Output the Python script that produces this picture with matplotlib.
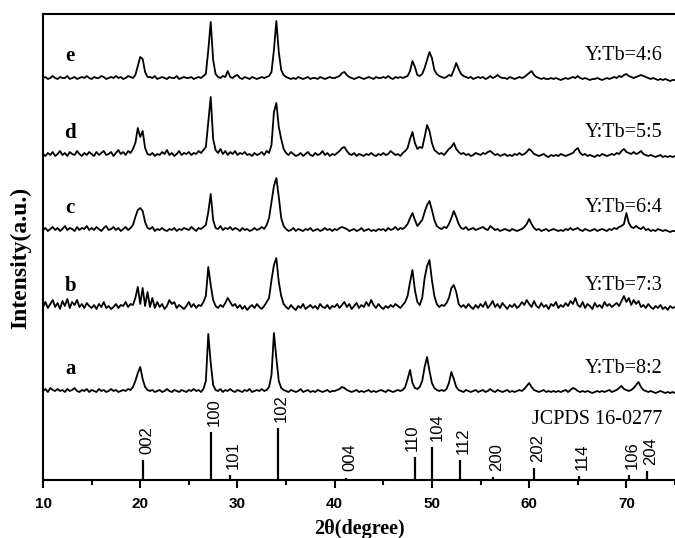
""" XRD patterns of Y:Tb samples with the JCPDS 16-0277 reference sticks.
"""


""" IMPORTS """
import numpy as np
import matplotlib
matplotlib.use("Agg")
import matplotlib.pyplot as plt
from matplotlib.ticker import MultipleLocator


""" DATA """
# intensities, one value every 0.25 deg from 10 to 75 deg
two_theta_start = 10.0
two_theta_step = 0.25

trace_a = [
    2, 4, 1, 5, 3, 2, 4, 2, 3, 1, 4, 2, 3, 5, 2, 1, 3, 2, 4, 1,
    3, 2, 1, 4, 2, 3, 1, 2, 4, 2, 3, 1, 2, 3, 2, 4, 3, 6, 12, 20,
    26, 14, 6, 3, 2, 3, 1, 2, 3, 1, 2, 4, 2, 1, 3, 2, 1, 3, 2, 1,
    3, 2, 4, 2, 3, 1, 4, 12, 59, 30, 8, 3, 2, 4, 1, 3, 2, 4, 2, 1,
    3, 2, 1, 3, 2, 4, 1, 2, 3, 2, 4, 2, 3, 6, 18, 60, 35, 12, 5, 3,
    2, 1, 3, 2, 1, 2, 4, 1, 2, 3, 1, 2, 1, 3, 2, 1, 2, 3, 1, 2,
    2, 3, 4, 6, 5, 3, 2, 1, 2, 3, 1, 2, 1, 2, 3, 1, 2, 1, 2, 3,
    2, 1, 3, 2, 1, 2, 3, 2, 3, 6, 14, 23, 10, 5, 4, 6, 12, 26, 36, 22,
    10, 5, 3, 2, 3, 2, 4, 10, 21, 14, 6, 3, 2, 1, 3, 2, 1, 2, 3, 1,
    2, 3, 1, 2, 4, 2, 1, 3, 2, 1, 2, 3, 1, 2, 1, 2, 3, 2, 4, 7,
    10, 6, 3, 2, 1, 2, 3, 1, 2, 1, 2, 1, 2, 1, 2, 3, 1, 3, 5, 4,
    2, 1, 2, 1, 2, 1, 0, 1, 2, 1, 2, 1, 2, 3, 1, 2, 3, 5, 7, 4,
    3, 2, 3, 5, 8, 11, 6, 3, 2, 1, 2, 1, 0, 1, 2, 1, 0, 1, 0, 1,
    0]

trace_b = [
    3, 8, 2, 6, 10, 3, 7, 1, 9, 4, 11, 2, 8, 5, 10, 3, 6, 2, 7, 4,
    2, 5, 1, 6, 3, 8, 2, 4, 1, 3, 6, 2, 5, 4, 8, 3, 6, 5, 12, 23,
    6, 22, 4, 18, 3, 12, 2, 8, 3, 6, 1, 4, 10, 6, 8, 2, 5, 3, 1, 4,
    8, 3, 6, 2, 5, 4, 8, 14, 43, 25, 10, 4, 2, 5, 3, 7, 12, 8, 4, 6,
    2, 5, 1, 4, 0, 3, 5, 2, 6, 3, 1, 4, 8, 12, 30, 45, 52, 28, 14, 6,
    3, 1, 5, 2, 0, 4, 2, 6, 1, 3, 5, 2, 4, 1, 6, 3, 2, 5, 1, 4,
    3, 6, 2, 5, 8, 3, 6, 1, 4, 7, 2, 5, 3, 8, 4, 10, 5, 2, 6, 3,
    1, 4, 2, 5, 3, 6, 4, 2, 5, 8, 14, 28, 40, 20, 8, 5, 12, 32, 44, 50,
    30, 14, 6, 3, 5, 4, 7, 12, 22, 25, 18, 6, 3, 5, 2, 6, 3, 1, 5, 2,
    6, 3, 8, 2, 5, 9, 3, 6, 2, 7, 4, 1, 5, 3, 6, 2, 4, 8, 5, 10,
    6, 3, 9, 4, 2, 7, 3, 5, 1, 6, 4, 8, 2, 5, 3, 7, 4, 9, 6, 12,
    5, 3, 8, 2, 6, 4, 1, 7, 3, 5, 2, 8, 4, 6, 3, 5, 7, 4, 9, 14,
    8, 12, 5, 10, 6, 9, 3, 5, 2, 6, 3, 1, 4, 2, 5, 1, 3, 0, 4, 2,
    3]

trace_c = [
    2, 4, 1, 3, 5, 2, 4, 1, 3, 6, 2, 4, 3, 1, 5, 2, 4, 3, 6, 2,
    4, 2, 5, 3, 1, 4, 6, 2, 3, 5, 2, 4, 1, 3, 5, 2, 4, 7, 15, 22,
    24, 21, 10, 4, 3, 5, 1, 3, 2, 4, 2, 1, 3, 2, 4, 1, 3, 2, 4, 3,
    2, 5, 3, 1, 4, 3, 5, 7, 20, 38, 12, 4, 3, 6, 2, 4, 3, 5, 2, 4,
    3, 1, 4, 2, 3, 1, 2, 4, 2, 3, 5, 3, 7, 14, 30, 46, 54, 35, 14, 6,
    3, 1, 2, 4, 1, 3, 2, 1, 3, 2, 4, 1, 2, 3, 1, 2, 4, 2, 3, 1,
    3, 2, 4, 5, 4, 3, 1, 2, 3, 1, 2, 4, 1, 2, 3, 1, 2, 1, 3, 2,
    3, 1, 4, 2, 3, 5, 2, 4, 3, 5, 8, 14, 19, 12, 6, 9, 12, 20, 27, 31,
    22, 12, 6, 4, 3, 5, 4, 8, 14, 21, 15, 8, 4, 3, 5, 2, 3, 4, 2, 3,
    4, 5, 3, 2, 6, 4, 2, 3, 1, 2, 3, 2, 1, 3, 2, 1, 2, 3, 5, 8,
    13, 8, 4, 2, 3, 1, 2, 3, 1, 2, 3, 2, 1, 2, 1, 3, 2, 4, 2, 3,
    4, 2, 1, 3, 2, 1, 2, 3, 1, 2, 3, 2, 1, 3, 2, 4, 3, 5, 6, 8,
    19, 9, 5, 4, 6, 4, 3, 5, 2, 3, 1, 2, 1, 3, 2, 1, 2, 1, 0, 1,
    1]

trace_d = [
    3, 1, 4, 2, 5, 1, 3, 6, 2, 4, 1, 5, 3, 2, 6, 3, 1, 4, 2, 5,
    3, 1, 5, 2, 4, 6, 2, 3, 5, 1, 4, 7, 3, 5, 2, 6, 4, 8, 14, 29,
    20, 26, 9, 3, 2, 4, 1, 3, 2, 5, 3, 7, 2, 4, 1, 3, 6, 2, 4, 3,
    5, 2, 4, 3, 6, 4, 7, 10, 35, 60, 18, 7, 4, 8, 3, 6, 2, 5, 3, 6,
    2, 4, 3, 5, 2, 3, 1, 4, 2, 3, 5, 2, 6, 4, 12, 45, 54, 30, 18, 8,
    4, 2, 5, 3, 1, 2, 4, 1, 3, 5, 2, 1, 4, 2, 3, 6, 2, 4, 1, 3,
    2, 4, 6, 9, 10, 6, 3, 2, 4, 1, 3, 2, 1, 3, 2, 4, 2, 1, 3, 2,
    4, 2, 3, 6, 4, 2, 3, 1, 4, 6, 9, 18, 25, 14, 8, 10, 9, 20, 32, 26,
    14, 7, 5, 3, 4, 2, 5, 8, 10, 14, 8, 5, 3, 4, 2, 3, 1, 2, 4, 3,
    2, 4, 3, 5, 6, 4, 2, 3, 1, 2, 3, 1, 2, 1, 3, 2, 4, 2, 3, 5,
    8, 6, 3, 2, 1, 2, 3, 1, 0, 2, 1, 2, 1, 3, 2, 1, 2, 3, 4, 7,
    9, 4, 2, 3, 1, 2, 1, 0, 2, 1, 3, 2, 1, 2, 3, 2, 4, 3, 6, 8,
    5, 4, 3, 5, 3, 4, 6, 3, 2, 1, 2, 1, 0, 1, 2, 0, 1, 0, 1, 0,
    1]

trace_e = [
    2, 3, 1, 2, 4, 2, 1, 3, 2, 2, 4, 1, 2, 3, 1, 2, 3, 2, 4, 2,
    1, 3, 2, 2, 4, 3, 1, 2, 3, 2, 4, 2, 3, 1, 2, 4, 3, 2, 5, 14,
    23, 21, 8, 3, 3, 2, 4, 1, 2, 3, 2, 1, 3, 2, 2, 4, 1, 2, 3, 2,
    2, 3, 1, 2, 3, 2, 4, 6, 30, 58, 20, 6, 3, 2, 4, 3, 9, 3, 2, 4,
    5, 2, 1, 3, 2, 1, 3, 2, 1, 2, 3, 2, 3, 4, 8, 30, 59, 28, 10, 5,
    3, 2, 1, 2, 1, 3, 2, 1, 2, 3, 1, 2, 2, 1, 3, 2, 1, 2, 3, 2,
    2, 3, 4, 7, 8, 5, 3, 2, 1, 2, 3, 2, 1, 2, 3, 2, 1, 3, 2, 2,
    3, 2, 4, 2, 1, 3, 2, 3, 2, 3, 4, 9, 19, 13, 5, 4, 6, 12, 20, 28,
    22, 10, 6, 4, 3, 2, 3, 5, 4, 10, 17, 11, 6, 4, 3, 2, 3, 1, 2, 3,
    2, 3, 1, 2, 4, 2, 3, 5, 3, 2, 2, 1, 3, 2, 1, 2, 3, 2, 3, 5,
    7, 9, 5, 3, 2, 1, 2, 1, 1, 2, 1, 2, 1, 0, 1, 2, 1, 2, 3, 2,
    4, 2, 1, 2, 1, 0, 1, 1, 2, 1, 0, 1, 2, 1, 2, 3, 2, 4, 3, 5,
    6, 4, 3, 2, 3, 4, 5, 4, 3, 2, 1, 2, 1, 0, 1, 0, 1, 0, -1, 0,
    0]

traces = [trace_a, trace_b, trace_c, trace_d, trace_e]
trace_offsets = [87, 170, 248, 323, 400]
sample_letters = ["a", "b", "c", "d", "e"]
ratio_labels = ["Y:Tb=8:2", "Y:Tb=7:3", "Y:Tb=6:4", "Y:Tb=5:5", "Y:Tb=4:6"]

# JCPDS 16-0277 reference lines
ref_pos = [20.3, 27.3, 29.2, 34.2, 41.2, 48.3, 50.05, 52.9, 56.3, 60.5, 65.1, 70.3, 72.1]
ref_int = [20, 48, 5, 52, 2, 23, 33, 20, 3, 12, 4, 5, 9]
ref_hkl = ["002", "100", "101", "102", "004", "110", "104", "112",
           "200", "202", "114", "106", "204"]
ref_name = "JCPDS 16-0277"


""" PLOT """
def main():
    serif = "Liberation Serif"
    sans = "Liberation Sans"

    fig = plt.figure(figsize=(6.75, 5.38), dpi=100)
    ax = fig.add_axes([43 / 675, 58 / 538, 632 / 675, 466 / 538])

    for vals, off, letter, ratio in zip(traces, trace_offsets, sample_letters, ratio_labels):
        y = np.array(vals, dtype=float) + off
        x = two_theta_start + two_theta_step * np.arange(len(y))
        ax.plot(x, y, color="black", lw=1.3)
        ax.text(12.8, off + 19, letter, family=serif, fontweight="bold",
                fontsize=15, ha="center", va="baseline")
        ax.text(73.7, off + 20, ratio, family=serif, fontsize=14.5,
                ha="right", va="baseline")

    # reference sticks
    ax.vlines(ref_pos, 0, ref_int, colors="black", lw=1.6)
    shift = {"110": -0.35, "104": 0.5}
    for pos, h, hkl in zip(ref_pos, ref_int, ref_hkl):
        ax.text(pos + shift.get(hkl, 0.35), max(h + 6, 9), hkl, rotation=90,
                family=sans, fontsize=12, ha="center", va="bottom")
    ax.text(73.7, 56, ref_name, family=serif, fontsize=14.5,
            ha="right", va="baseline")

    ax.set_xlim(10, 75)
    ax.set_ylim(0, 466)
    ax.set_yticks([])
    ax.xaxis.set_major_locator(MultipleLocator(10))
    ax.xaxis.set_minor_locator(MultipleLocator(5))
    ax.tick_params(axis="x", which="major", direction="out", length=6, width=1.5,
                   labelsize=11, pad=6)
    ax.tick_params(axis="x", which="minor", direction="out", length=3.5, width=1.5)
    for lab in ax.get_xticklabels():
        lab.set_family(sans)
        lab.set_fontweight("bold")

    for side in ["left", "top", "bottom"]:
        ax.spines[side].set_linewidth(1.5)
    ax.spines["right"].set_visible(False)

    ax.set_xlabel("2θ(degree)", family=serif, fontweight="bold", fontsize=14.5,
                  labelpad=6)
    ax.set_ylabel("Intensity(a.u.)", family=serif, fontweight="bold", fontsize=17)
    ax.yaxis.set_label_coords(-0.018, 0.476)

    fig.savefig("out.png", dpi=100)
    plt.close(fig)


""" EXECUTION """
if __name__ == "__main__":
    main()
